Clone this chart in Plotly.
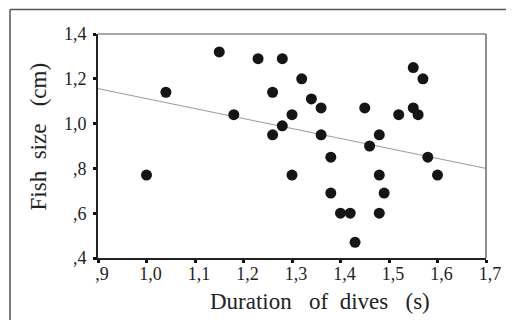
import plotly.graph_objects as go

# Data
duration = [1.00, 1.04, 1.15, 1.18, 1.23, 1.28, 1.32, 1.26, 1.34, 1.36, 1.30,
            1.28, 1.26, 1.36, 1.45, 1.46, 1.48, 1.55, 1.57, 1.52, 1.55, 1.56,
            1.38, 1.58, 1.30, 1.48, 1.60, 1.38, 1.49, 1.40, 1.42, 1.48, 1.43]
fish_size = [0.77, 1.14, 1.32, 1.04, 1.29, 1.29, 1.20, 1.14, 1.11, 1.07, 1.04,
             0.99, 0.95, 0.95, 1.07, 0.90, 0.95, 1.25, 1.20, 1.04, 1.07, 1.04,
             0.85, 0.85, 0.77, 0.77, 0.77, 0.69, 0.69, 0.60, 0.60, 0.60, 0.47]

fit_intercept = 1.5565
fit_slope = -0.445

x_tickvals = [0.9, 1.0, 1.1, 1.2, 1.3, 1.4, 1.5, 1.6, 1.7]
x_ticktext = [",9", "1,0", "1,1", "1,2", "1,3", "1,4", "1,5", "1,6", "1,7"]
y_tickvals = [0.4, 0.6, 0.8, 1.0, 1.2, 1.4]
y_ticktext = [",4", ",6", ",8", "1,0", "1,2", "1,4"]

x_title = "Duration\u00a0\u00a0\u00a0of\u00a0\u00a0dives\u00a0\u00a0\u00a0(s)"
y_title = "Fish\u00a0\u00a0size\u00a0\u00a0\u00a0(cm)"

x_range = [0.9, 1.7]
y_range = [0.4, 1.4]

FONT = "Liberation Serif"
TXT = "#222222"

# figure geometry (page has an 8px body margin)
W, H = 506, 312
ML, MR, MT, MB = 90, 28, 26, 62
PW, PH = W - ML - MR, H - MT - MB

fig = go.Figure()

fit_y = [fit_intercept + fit_slope * v for v in x_range]
fig.add_trace(go.Scatter(x=x_range, y=fit_y, mode="lines",
                         line=dict(color="#9a9a9a", width=1),
                         hoverinfo="skip", showlegend=False))

fig.add_trace(go.Scatter(x=duration, y=fish_size, mode="markers",
                         marker=dict(size=11, color="#151515"),
                         showlegend=False, cliponaxis=False))

axis_common = dict(showgrid=False, zeroline=False,
                   showline=True, linecolor="#222222", linewidth=2,
                   ticks="outside", ticklen=3, tickwidth=3, tickcolor="#111111",
                   tickfont=dict(family=FONT, size=18, color=TXT))

fig.update_layout(
    width=W, height=H,
    margin=dict(l=ML, r=MR, t=MT, b=MB),
    paper_bgcolor="white", plot_bgcolor="white",
    font=dict(family=FONT, color=TXT, size=18),
    showlegend=False,
    xaxis=dict(range=x_range, tickvals=x_tickvals, ticktext=x_ticktext,
               ticklabelshift=4, ticklabelstandoff=-5, **axis_common),
    yaxis=dict(range=y_range, tickvals=y_tickvals, ticktext=y_ticktext,
               ticklabelstandoff=3, **axis_common),
    annotations=[
        dict(text=x_title, xref="paper", yref="paper",
             x=(312 - ML) / PW, y=-(293 - MT - PH) / PH,
             xanchor="center", yanchor="middle", showarrow=False,
             font=dict(family=FONT, size=23, color=TXT)),
        dict(text=y_title, xref="paper", yref="paper",
             x=(29.5 - ML) / PW, y=1 - (129 - MT) / PH,
             xanchor="center", yanchor="middle", showarrow=False,
             textangle=-90,
             font=dict(family=FONT, size=23, color=TXT)),
    ],
    shapes=[
        # top & right frame of plot area (gray)
        dict(type="line", xref="paper", yref="paper", x0=0, x1=1, y0=1, y1=1,
             line=dict(color="#8a8a8a", width=1.5)),
        dict(type="line", xref="paper", yref="paper", x0=1, x1=1, y0=0, y1=1,
             line=dict(color="#6a6a6a", width=1.5)),
        # outer frame (top and left visible)
        dict(type="line", xref="paper", yref="paper",
             x0=(2 - ML) / PW, x1=(W - ML) / PW,
             y0=1 + (MT - 1.5) / PH, y1=1 + (MT - 1.5) / PH,
             line=dict(color="#555555", width=1.5)),
        dict(type="line", xref="paper", yref="paper",
             x0=(2 - ML) / PW, x1=(2 - ML) / PW,
             y0=-MB / PH, y1=1 + (MT - 1.5) / PH,
             line=dict(color="#555555", width=1.5)),
    ],
)

fig.write_html("out.html")
